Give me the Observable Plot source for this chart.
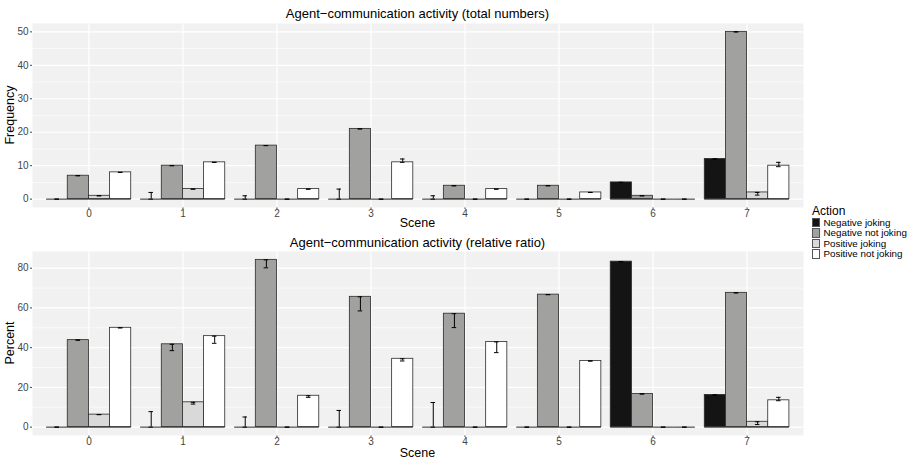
<!DOCTYPE html>
<html><head><meta charset="utf-8">
<script src="https://cdn.jsdelivr.net/npm/d3@7"></script>
<script src="https://cdn.jsdelivr.net/npm/@observablehq/plot@0.6"></script>
<style>
body{margin:0;background:#fff;font-family:"Liberation Sans",Arial,sans-serif;}
#root{position:relative;width:915px;height:462px;overflow:hidden;background:#fff;}
.t{position:absolute;white-space:nowrap;line-height:1;color:#000;}
.p{position:absolute;left:0;}
</style></head><body><div id="root"></div>
<script>
// ---------- data ----------
const scenes = [0, 1, 2, 3, 4, 5, 6, 7];
const sceneLabels = ["0", "1", "2", "3", "4", "5", "6", "7"];
const actions = ["Negative joking", "Negative not joking", "Positive joking", "Positive not joking"];

// total numbers (Frequency)
const freqNegJoking     = [0, 0, 0, 0, 0, 0, 5, 12];
const freqNegNotJoking  = [7, 10, 16, 21, 4, 4, 1, 50];
const freqPosJoking     = [1, 3, 0, 0, 0, 0, 0, 2];
const freqPosNotJoking  = [8, 11, 3, 11, 3, 2, 0, 10];
const freqLoNegJoking    = [0, 0, 0, 0, 0, 0, 5, 12];
const freqHiNegJoking    = [0, 2, 1, 3, 1, 0, 5, 12];
const freqLoNegNotJoking = [7, 10, 16, 21, 4, 4, 1, 50];
const freqHiNegNotJoking = [7, 10, 16, 21, 4, 4, 1, 50];
const freqLoPosJoking    = [1, 3, 0, 0, 0, 0, 0, 1.2];
const freqHiPosJoking    = [1, 3, 0, 0, 0, 0, 0, 2];
const freqLoPosNotJoking = [8, 11, 3, 11, 3, 2, 0, 9.7];
const freqHiPosNotJoking = [8, 11, 3, 12, 3, 2, 0, 11];

// relative ratio (Percent)
const pctNegJoking     = [0, 0, 0, 0, 0, 0, 83.3, 16.2];
const pctNegNotJoking  = [43.8, 41.7, 84.2, 65.6, 57.1, 66.7, 16.7, 67.6];
const pctPosJoking     = [6.3, 12.5, 0, 0, 0, 0, 0, 2.7];
const pctPosNotJoking  = [50, 45.8, 15.8, 34.4, 42.9, 33.3, 0, 13.5];
const pctLoNegJoking    = [0, 0, 0, 0, 0, 0, 83.3, 16.2];
const pctHiNegJoking    = [0, 7.8, 5.1, 8.4, 12.4, 0, 83.3, 16.2];
const pctLoNegNotJoking = [43.8, 38.5, 80.2, 58.5, 50.1, 66.7, 16.7, 67.6];
const pctHiNegNotJoking = [43.8, 41.7, 84.2, 65.6, 57.1, 66.7, 16.7, 67.6];
const pctLoPosJoking    = [6.3, 11.6, 0, 0, 0, 0, 0, 1.3];
const pctHiPosJoking    = [6.3, 12.5, 0, 0, 0, 0, 0, 2.7];
const pctLoPosNotJoking = [50, 42.2, 15.0, 33.3, 37.5, 33.3, 0, 13.3];
const pctHiPosNotJoking = [50, 45.8, 15.8, 34.4, 42.9, 33.3, 0, 15.0];

const freqTicks = [0, 10, 20, 30, 40, 50];
const freqMinor = [5, 15, 25, 35, 45];
const pctTicks = [0, 20, 40, 60, 80];
const pctMinor = [10, 30, 50, 70];

// ---------- style ----------
const fills = ["#141414", "#A1A19F", "#D9D9D9", "#FFFFFF"];
const FONT = '"Liberation Sans", Arial, sans-serif';
const barW = 0.9 / actions.length;
const capHalf = 0.024;

function rows(vals, lo, hi) {
  const out = [];
  actions.forEach((a, j) => scenes.forEach((s, i) => {
    const xc = s + (j - (actions.length - 1) / 2) * barW;
    out.push({scene: s, action: a, value: vals[j][i], lo: lo[j][i], hi: hi[j][i], base: 0,
      xc, x1: xc - barW / 2, x2: xc + barW / 2, c1: xc - capHalf, c2: xc + capHalf});
  }));
  return out;
}

const freqData = rows(
  [freqNegJoking, freqNegNotJoking, freqPosJoking, freqPosNotJoking],
  [freqLoNegJoking, freqLoNegNotJoking, freqLoPosJoking, freqLoPosNotJoking],
  [freqHiNegJoking, freqHiNegNotJoking, freqHiPosJoking, freqHiPosNotJoking]);
const pctData = rows(
  [pctNegJoking, pctNegNotJoking, pctPosJoking, pctPosNotJoking],
  [pctLoNegJoking, pctLoNegNotJoking, pctLoPosJoking, pctLoPosNotJoking],
  [pctHiNegJoking, pctHiNegNotJoking, pctHiPosJoking, pctHiPosNotJoking]);

function makePlot(data, ticks, minor, height, marginTop, marginBottom) {
  const ext = d3.extent(data.flatMap(d => [d.value, d.lo, d.hi, 0]));
  const pad = (ext[1] - ext[0]) * 0.05;
  return Plot.plot({
    width: 805, height, marginLeft: 32, marginRight: 2, marginTop, marginBottom,
    style: {fontFamily: FONT, fontSize: "10px", color: "#444", background: "transparent", overflow: "visible"},
    x: {type: "linear", domain: [scenes[0] - 0.6, scenes[scenes.length - 1] + 0.6], ticks: scenes,
        tickFormat: i => sceneLabels[i], tickSize: 2, tickPadding: 0.5, label: null},
    y: {domain: [ext[0] - pad, ext[1] + pad], ticks, tickSize: 2, tickPadding: 2, label: null},
    color: {domain: actions, range: fills},
    marks: [
      Plot.frame({fill: "#F1F1F1", stroke: "none"}),
      Plot.ruleY(minor, {stroke: "#FFFFFF", strokeWidth: 0.6}),
      Plot.ruleY(ticks, {stroke: "#FFFFFF", strokeWidth: 1.2}),
      Plot.ruleX(scenes, {stroke: "#FFFFFF", strokeWidth: 1.2}),
      Plot.rectY(data, {x1: "x1", x2: "x2", y: "value", fill: "action", stroke: "#2a2a2a", strokeWidth: 0.8}),
      Plot.ruleY(data, {y: "base", x1: "x1", x2: "x2", stroke: "#2a2a2a", strokeWidth: 1}),
      Plot.ruleX(data, {x: "xc", y1: "lo", y2: "hi", stroke: "#000", strokeWidth: 1}),
      Plot.ruleY(data, {y: "lo", x1: "c1", x2: "c2", stroke: "#000", strokeWidth: 1}),
      Plot.ruleY(data, {y: "hi", x1: "c1", x2: "c2", stroke: "#000", strokeWidth: 1})
    ]
  });
}

const root = document.getElementById("root");
function addText(txt, x, baseline, size, opts = {}) {
  const d = document.createElement("div");
  d.className = "t";
  d.textContent = txt;
  d.style.fontSize = size + "px";
  if (opts.rotate) {
    d.style.left = x + "px";
    d.style.top = baseline + "px";
    d.style.transform = "translate(-50%,-50%) rotate(-90deg)";
  } else {
    d.style.top = (baseline - 0.8465 * size) + "px";
    d.style.left = x + "px";
    if (opts.center) d.style.transform = "translateX(-50%)";
  }
  if (opts.color) d.style.color = opts.color;
  root.appendChild(d);
}

const p1 = makePlot(freqData, freqTicks, freqMinor, 212, 3, 25);
p1.classList.add("p"); p1.style.top = "20px"; p1.style.position = "absolute";
root.appendChild(p1);
const p2 = makePlot(pctData, pctTicks, pctMinor, 214, 3, 27);
p2.classList.add("p"); p2.style.top = "248px"; p2.style.position = "absolute";
root.appendChild(p2);

addText("Agent\u2212communication activity (total numbers)", 417.5, 18.5, 13, {center: true});
addText("Scene", 417.5, 228, 12.5, {center: true});
addText("Frequency", 9.6, 115, 12.5, {rotate: true});
addText("Agent\u2212communication activity (relative ratio)", 417.5, 247.5, 13, {center: true});
addText("Scene", 417.5, 458, 12.5, {center: true});
addText("Percent", 9.6, 343, 12.5, {rotate: true});

// legend
addText("Action", 812, 215.5, 12);
actions.forEach((a, j) => {
  const top = 218 + j * 10.4;
  const k = document.createElement("div");
  k.style.cssText = `position:absolute;left:812px;top:${top}px;width:8px;height:9.4px;background:${fills[j]};border:0.6px solid #555;box-sizing:border-box;`;
  root.appendChild(k);
  addText(a, 823.5, top + 8.3, 9.8);
});
</script></body></html>
